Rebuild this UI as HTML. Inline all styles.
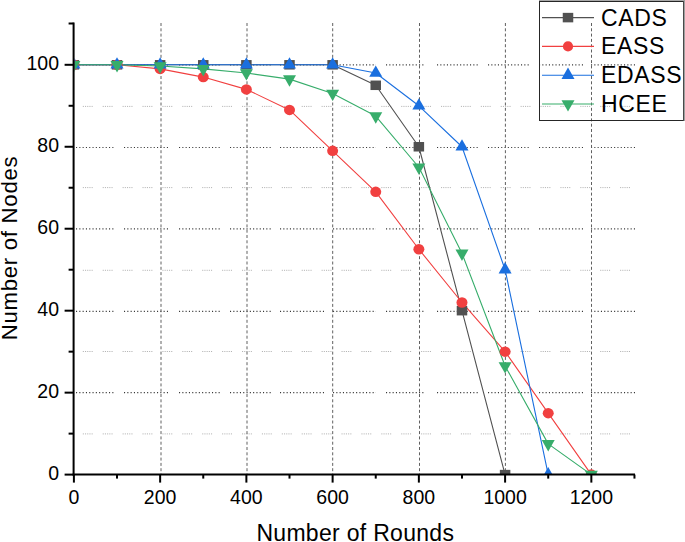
<!DOCTYPE html>
<html><head><meta charset="utf-8"><style>
html,body{margin:0;padding:0;background:#fff;}
svg{display:block;font-family:"Liberation Sans",sans-serif;}
</style></head><body>
<svg width="685" height="542" viewBox="0 0 685 542">
<defs><clipPath id="pc"><rect x="74.6" y="0" width="610" height="474.6"/></clipPath></defs>
<rect width="685" height="542" fill="#fff"/>
<line x1="82.8" y1="433.9" x2="634" y2="433.9" stroke="#b4b4b4" stroke-width="1" stroke-dasharray="1.1 1.1 1.1 1.1 1.1 1.1 1.1 1.1 1.1 10"/>
<line x1="82.8" y1="351.5" x2="634" y2="351.5" stroke="#b4b4b4" stroke-width="1" stroke-dasharray="1.1 1.1 1.1 1.1 1.1 1.1 1.1 1.1 1.1 10"/>
<line x1="82.8" y1="270.3" x2="634" y2="270.3" stroke="#b4b4b4" stroke-width="1" stroke-dasharray="1.1 1.1 1.1 1.1 1.1 1.1 1.1 1.1 1.1 10"/>
<line x1="82.8" y1="187.6" x2="634" y2="187.6" stroke="#b4b4b4" stroke-width="1" stroke-dasharray="1.1 1.1 1.1 1.1 1.1 1.1 1.1 1.1 1.1 10"/>
<line x1="82.8" y1="106.4" x2="634" y2="106.4" stroke="#b4b4b4" stroke-width="1" stroke-dasharray="1.1 1.1 1.1 1.1 1.1 1.1 1.1 1.1 1.1 10"/>
<path transform="translate(0,392.7)" d="M76 0H115 M124 0H169 M179 0H220 M230 0H271 M280 0H325 M333 0H376 M386 0H425 M437 0H478 M488 0H530 M539 0H583 M591 0H635" stroke="#3a3a3a" stroke-width="1.2" stroke-dasharray="1.1 2.2"/>
<path transform="translate(0,311.4)" d="M76 0H115 M124 0H169 M179 0H220 M230 0H271 M280 0H325 M333 0H376 M386 0H425 M437 0H478 M488 0H530 M539 0H583 M591 0H635" stroke="#3a3a3a" stroke-width="1.2" stroke-dasharray="1.1 2.2"/>
<path transform="translate(0,228.8)" d="M76 0H115 M124 0H169 M179 0H220 M230 0H271 M280 0H325 M333 0H376 M386 0H425 M437 0H478 M488 0H530 M539 0H583 M591 0H635" stroke="#3a3a3a" stroke-width="1.2" stroke-dasharray="1.1 2.2"/>
<path transform="translate(0,147.5)" d="M76 0H115 M124 0H169 M179 0H220 M230 0H271 M280 0H325 M333 0H376 M386 0H425 M437 0H478 M488 0H530 M539 0H583 M591 0H635" stroke="#3a3a3a" stroke-width="1.2" stroke-dasharray="1.1 2.2"/>
<path transform="translate(0,64.8)" d="M76 0H115 M124 0H169 M179 0H220 M230 0H271 M280 0H325 M333 0H376 M386 0H425 M437 0H478 M488 0H530 M539 0H583 M591 0H635" stroke="#3a3a3a" stroke-width="1.2" stroke-dasharray="1.1 2.2"/>
<line x1="161" y1="23" x2="161" y2="474.6" stroke="#606060" stroke-width="1" stroke-dasharray="3 2.3"/>
<line x1="247" y1="23" x2="247" y2="474.6" stroke="#606060" stroke-width="1" stroke-dasharray="3 2.3"/>
<line x1="332.7" y1="23" x2="332.7" y2="474.6" stroke="#606060" stroke-width="1" stroke-dasharray="3 2.3"/>
<line x1="419.5" y1="23" x2="419.5" y2="474.6" stroke="#606060" stroke-width="1" stroke-dasharray="3 2.3"/>
<line x1="505.4" y1="23" x2="505.4" y2="474.6" stroke="#606060" stroke-width="1" stroke-dasharray="3 2.3"/>
<line x1="591.5" y1="23" x2="591.5" y2="474.6" stroke="#606060" stroke-width="1" stroke-dasharray="3 2.3"/>
<g clip-path="url(#pc)">
<polyline points="73.9,64.8 117.02,64.8 160.14,64.8 203.26,64.8 246.38,64.8 289.5,64.8 332.62,64.8 375.74,85.29 418.86,146.76 461.98,310.68 505.1,474.6" fill="none" stroke="#515151" stroke-width="1.1" stroke-linejoin="round"/>
<polyline points="73.9,64.8 117.02,64.8 160.14,68.9 203.26,77.09 246.38,89.39 289.5,109.88 332.62,150.86 375.74,191.84 418.86,249.21 461.98,302.48 505.1,351.66 548.22,413.13 591.34,474.6" fill="none" stroke="#F14040" stroke-width="1.1" stroke-linejoin="round"/>
<polyline points="73.9,64.8 117.02,64.8 160.14,64.8 203.26,64.8 246.38,64.8 289.5,64.8 332.62,64.8 375.74,73 418.86,105.78 461.98,146.76 505.1,269.7 548.22,474.6" fill="none" stroke="#1A6FDF" stroke-width="1.1" stroke-linejoin="round"/>
<polyline points="73.9,64.8 117.02,64.8 160.14,66.03 203.26,68.9 246.38,73 289.5,79.14 332.62,93.49 375.74,116.03 418.86,167.25 461.98,253.31 505.1,366 548.22,443.87 591.34,474.6" fill="none" stroke="#37AD6B" stroke-width="1.1" stroke-linejoin="round"/>
<rect x="68.65" y="60.05" width="10.5" height="9.5" fill="#515151"/>
<rect x="111.77" y="60.05" width="10.5" height="9.5" fill="#515151"/>
<rect x="154.89" y="60.05" width="10.5" height="9.5" fill="#515151"/>
<rect x="198.01" y="60.05" width="10.5" height="9.5" fill="#515151"/>
<rect x="241.13" y="60.05" width="10.5" height="9.5" fill="#515151"/>
<rect x="284.25" y="60.05" width="10.5" height="9.5" fill="#515151"/>
<rect x="327.37" y="60.05" width="10.5" height="9.5" fill="#515151"/>
<rect x="370.49" y="80.54" width="10.5" height="9.5" fill="#515151"/>
<rect x="413.61" y="142.01" width="10.5" height="9.5" fill="#515151"/>
<rect x="456.73" y="305.93" width="10.5" height="9.5" fill="#515151"/>
<rect x="499.85" y="469.85" width="10.5" height="9.5" fill="#515151"/>
<ellipse cx="73.9" cy="64.8" rx="5.5" ry="5.25" fill="#F14040"/>
<ellipse cx="117.02" cy="64.8" rx="5.5" ry="5.25" fill="#F14040"/>
<ellipse cx="160.14" cy="68.9" rx="5.5" ry="5.25" fill="#F14040"/>
<ellipse cx="203.26" cy="77.09" rx="5.5" ry="5.25" fill="#F14040"/>
<ellipse cx="246.38" cy="89.39" rx="5.5" ry="5.25" fill="#F14040"/>
<ellipse cx="289.5" cy="109.88" rx="5.5" ry="5.25" fill="#F14040"/>
<ellipse cx="332.62" cy="150.86" rx="5.5" ry="5.25" fill="#F14040"/>
<ellipse cx="375.74" cy="191.84" rx="5.5" ry="5.25" fill="#F14040"/>
<ellipse cx="418.86" cy="249.21" rx="5.5" ry="5.25" fill="#F14040"/>
<ellipse cx="461.98" cy="302.48" rx="5.5" ry="5.25" fill="#F14040"/>
<ellipse cx="505.1" cy="351.66" rx="5.5" ry="5.25" fill="#F14040"/>
<ellipse cx="548.22" cy="413.13" rx="5.5" ry="5.25" fill="#F14040"/>
<ellipse cx="591.34" cy="474.6" rx="5.5" ry="5.25" fill="#F14040"/>
<polygon points="73.9,57.2 80.4,68.6 67.4,68.6" fill="#1A6FDF"/>
<polygon points="117.02,57.2 123.52,68.6 110.52,68.6" fill="#1A6FDF"/>
<polygon points="160.14,57.2 166.64,68.6 153.64,68.6" fill="#1A6FDF"/>
<polygon points="203.26,57.2 209.76,68.6 196.76,68.6" fill="#1A6FDF"/>
<polygon points="246.38,57.2 252.88,68.6 239.88,68.6" fill="#1A6FDF"/>
<polygon points="289.5,57.2 296,68.6 283,68.6" fill="#1A6FDF"/>
<polygon points="332.62,57.2 339.12,68.6 326.12,68.6" fill="#1A6FDF"/>
<polygon points="375.74,65.4 382.24,76.8 369.24,76.8" fill="#1A6FDF"/>
<polygon points="418.86,98.18 425.36,109.58 412.36,109.58" fill="#1A6FDF"/>
<polygon points="461.98,139.16 468.48,150.56 455.48,150.56" fill="#1A6FDF"/>
<polygon points="505.1,262.1 511.6,273.5 498.6,273.5" fill="#1A6FDF"/>
<polygon points="548.22,467 554.72,478.4 541.72,478.4" fill="#1A6FDF"/>
<polygon points="73.9,72.4 80.4,61 67.4,61" fill="#37AD6B"/>
<polygon points="117.02,72.4 123.52,61 110.52,61" fill="#37AD6B"/>
<polygon points="160.14,73.63 166.64,62.23 153.64,62.23" fill="#37AD6B"/>
<polygon points="203.26,76.5 209.76,65.1 196.76,65.1" fill="#37AD6B"/>
<polygon points="246.38,80.6 252.88,69.2 239.88,69.2" fill="#37AD6B"/>
<polygon points="289.5,86.74 296,75.34 283,75.34" fill="#37AD6B"/>
<polygon points="332.62,101.09 339.12,89.69 326.12,89.69" fill="#37AD6B"/>
<polygon points="375.74,123.63 382.24,112.23 369.24,112.23" fill="#37AD6B"/>
<polygon points="418.86,174.85 425.36,163.45 412.36,163.45" fill="#37AD6B"/>
<polygon points="461.98,260.91 468.48,249.51 455.48,249.51" fill="#37AD6B"/>
<polygon points="505.1,373.6 511.6,362.2 498.6,362.2" fill="#37AD6B"/>
<polygon points="548.22,451.47 554.72,440.06 541.72,440.06" fill="#37AD6B"/>
<polygon points="591.34,482.2 597.84,470.8 584.84,470.8" fill="#37AD6B"/>
</g>
<line x1="73.6" y1="22.5" x2="73.6" y2="475.6" stroke="#000" stroke-width="2"/>
<line x1="72.6" y1="474.6" x2="635" y2="474.6" stroke="#000" stroke-width="2"/>
<line x1="64.6" y1="474.6" x2="73.6" y2="474.6" stroke="#000" stroke-width="2"/>
<line x1="68.6" y1="433.62" x2="73.6" y2="433.62" stroke="#000" stroke-width="2"/>
<line x1="64.6" y1="392.64" x2="73.6" y2="392.64" stroke="#000" stroke-width="2"/>
<line x1="68.6" y1="351.66" x2="73.6" y2="351.66" stroke="#000" stroke-width="2"/>
<line x1="64.6" y1="310.68" x2="73.6" y2="310.68" stroke="#000" stroke-width="2"/>
<line x1="68.6" y1="269.7" x2="73.6" y2="269.7" stroke="#000" stroke-width="2"/>
<line x1="64.6" y1="228.72" x2="73.6" y2="228.72" stroke="#000" stroke-width="2"/>
<line x1="68.6" y1="187.74" x2="73.6" y2="187.74" stroke="#000" stroke-width="2"/>
<line x1="64.6" y1="146.76" x2="73.6" y2="146.76" stroke="#000" stroke-width="2"/>
<line x1="68.6" y1="105.78" x2="73.6" y2="105.78" stroke="#000" stroke-width="2"/>
<line x1="64.6" y1="64.8" x2="73.6" y2="64.8" stroke="#000" stroke-width="2"/>
<line x1="68.6" y1="23.5" x2="73.6" y2="23.5" stroke="#000" stroke-width="2"/>
<line x1="73.9" y1="474.6" x2="73.9" y2="482.6" stroke="#000" stroke-width="2"/>
<line x1="117.02" y1="474.6" x2="117.02" y2="478.6" stroke="#000" stroke-width="2"/>
<line x1="160.14" y1="474.6" x2="160.14" y2="482.6" stroke="#000" stroke-width="2"/>
<line x1="203.26" y1="474.6" x2="203.26" y2="478.6" stroke="#000" stroke-width="2"/>
<line x1="246.38" y1="474.6" x2="246.38" y2="482.6" stroke="#000" stroke-width="2"/>
<line x1="289.5" y1="474.6" x2="289.5" y2="478.6" stroke="#000" stroke-width="2"/>
<line x1="332.62" y1="474.6" x2="332.62" y2="482.6" stroke="#000" stroke-width="2"/>
<line x1="375.74" y1="474.6" x2="375.74" y2="478.6" stroke="#000" stroke-width="2"/>
<line x1="418.86" y1="474.6" x2="418.86" y2="482.6" stroke="#000" stroke-width="2"/>
<line x1="461.98" y1="474.6" x2="461.98" y2="478.6" stroke="#000" stroke-width="2"/>
<line x1="505.1" y1="474.6" x2="505.1" y2="482.6" stroke="#000" stroke-width="2"/>
<line x1="548.22" y1="474.6" x2="548.22" y2="478.6" stroke="#000" stroke-width="2"/>
<line x1="591.34" y1="474.6" x2="591.34" y2="482.6" stroke="#000" stroke-width="2"/>
<line x1="634.46" y1="474.6" x2="634.46" y2="478.6" stroke="#000" stroke-width="2"/>
<text x="59" y="479.8" text-anchor="end" font-size="19.5">0</text>
<text x="59" y="397.84" text-anchor="end" font-size="19.5">20</text>
<text x="59" y="315.88" text-anchor="end" font-size="19.5">40</text>
<text x="59" y="233.92" text-anchor="end" font-size="19.5">60</text>
<text x="59" y="151.96" text-anchor="end" font-size="19.5">80</text>
<text x="59" y="70" text-anchor="end" font-size="19.5">100</text>
<text x="73.9" y="504.2" text-anchor="middle" font-size="19.5">0</text>
<text x="160.14" y="504.2" text-anchor="middle" font-size="19.5">200</text>
<text x="246.38" y="504.2" text-anchor="middle" font-size="19.5">400</text>
<text x="332.62" y="504.2" text-anchor="middle" font-size="19.5">600</text>
<text x="418.86" y="504.2" text-anchor="middle" font-size="19.5">800</text>
<text x="505.1" y="504.2" text-anchor="middle" font-size="19.5">1000</text>
<text x="591.34" y="504.2" text-anchor="middle" font-size="19.5">1200</text>
<text x="355.3" y="540.9" text-anchor="middle" font-size="23" letter-spacing="0.3">Number of Rounds</text>
<text transform="translate(17.3,248) rotate(-90)" text-anchor="middle" font-size="22.2" letter-spacing="0.72">Number of Nodes</text>
<rect x="539" y="0" width="146" height="1" fill="#a8a8a8"/>
<rect x="539" y="1" width="145" height="1" fill="#262626"/>
<rect x="539" y="1" width="1" height="120" fill="#262626"/>
<rect x="539" y="120" width="145" height="1" fill="#262626"/>
<rect x="683" y="1" width="1" height="120" fill="#4a4a4a"/>
<rect x="684" y="0" width="1" height="121" fill="#a0a0a0"/>
<line x1="542" y1="17.6" x2="594" y2="17.6" stroke="#515151" stroke-width="1.1"/>
<rect x="562.75" y="12.85" width="10.5" height="9.5" fill="#515151"/>
<text x="601" y="25.5" font-size="23" letter-spacing="0.65">CADS</text>
<line x1="542" y1="46.4" x2="594" y2="46.4" stroke="#F14040" stroke-width="1.1"/>
<circle cx="568" cy="46.4" r="5.1" fill="#F14040"/>
<text x="601" y="54.3" font-size="23" letter-spacing="0.65">EASS</text>
<line x1="542" y1="75.2" x2="594" y2="75.2" stroke="#1A6FDF" stroke-width="1.1"/>
<polygon points="568,67.6 574.5,79 561.5,79" fill="#1A6FDF"/>
<text x="601" y="83.1" font-size="23" letter-spacing="0.65">EDASS</text>
<line x1="542" y1="104" x2="594" y2="104" stroke="#37AD6B" stroke-width="1.1"/>
<polygon points="568,111.6 574.5,100.2 561.5,100.2" fill="#37AD6B"/>
<text x="601" y="111.9" font-size="23" letter-spacing="0.65">HCEE</text>
</svg>
</body></html>
